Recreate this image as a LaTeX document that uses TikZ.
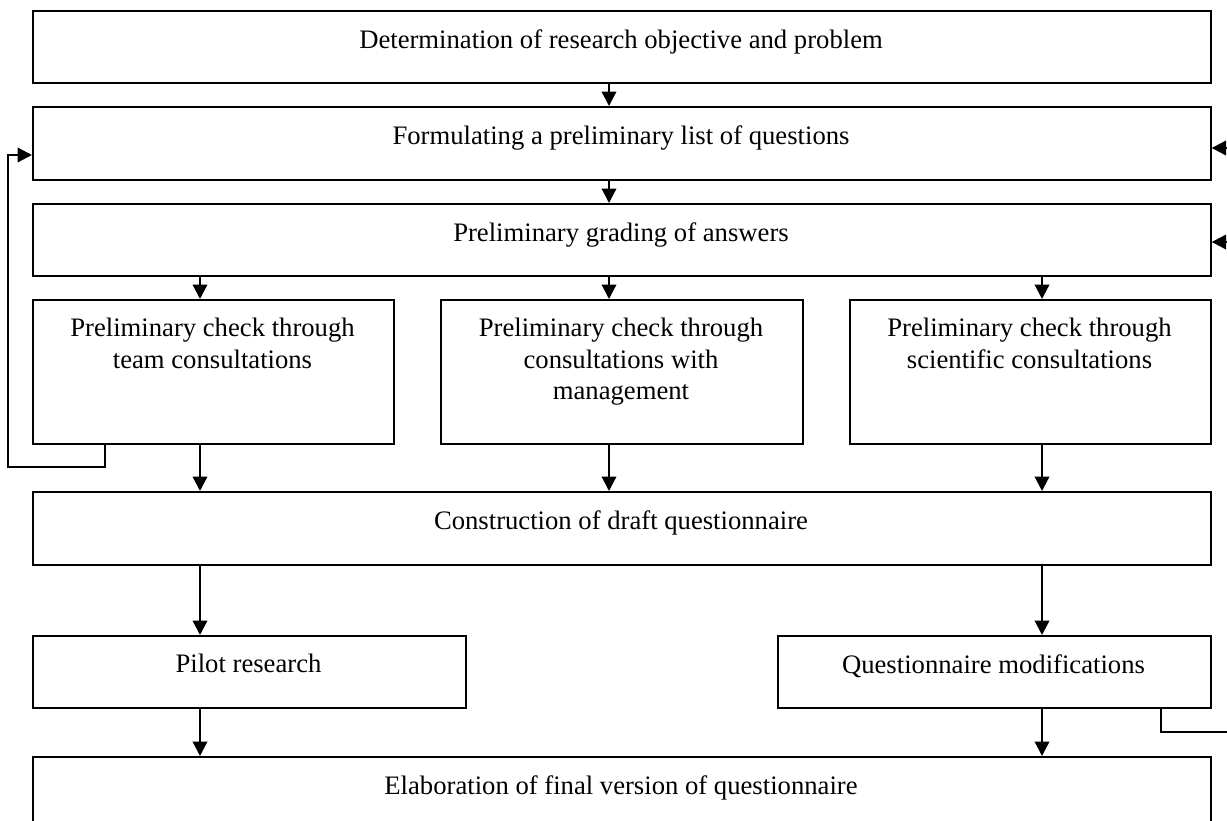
\documentclass[tikz,border=0pt]{standalone}
\usepackage{fontspec}
\setmainfont{Liberation Serif}
\usetikzlibrary{arrows.meta}
\tikzset{
  box/.style={draw, line width=0.75pt, inner sep=0pt, fill=none},
  txt/.style={inner sep=0pt, align=center, font=\fontsize{12}{14}\selectfont},
  arr/.style={line width=1pt, -{Triangle[length=6.5pt,width=6.5pt]}},
  ln/.style={line width=1pt}
}
\newcommand\mkbox[6]{%
  \node[box, anchor=north west, minimum width={(#4-#2)*0.45pt}, minimum height={(#5-#3)*0.45pt}] (#1) at (#2,#3) {};
  \node[txt, anchor=north] (#1t) at ({(#2+#4)/2},{#3+19}) {#6};}
\begin{document}
\begin{tikzpicture}[x=0.45pt,y=-0.45pt]
\useasboundingbox (0,0) rectangle (1227,820);
\mkbox{b1}{32}{10}{1210}{82}{Determination of research objective and problem}
\mkbox{b2}{32}{106}{1210}{179}{Formulating a preliminary list of questions}
\mkbox{b3}{32}{203}{1210}{275}{Preliminary grading of answers}
\mkbox{b4}{32}{299}{393}{443}{Preliminary check through\\team consultations}
\mkbox{b5}{440}{299}{802}{443}{Preliminary check through\\consultations with\\management}
\mkbox{b6}{849}{299}{1210}{443}{Preliminary check through\\scientific consultations}
\mkbox{b7}{32}{491}{1210}{564}{Construction of draft questionnaire}
\mkbox{b8}{32}{635}{465}{707}{Pilot research}
\mkbox{b9}{777}{635}{1210}{707}{Questionnaire modifications}
\mkbox{b10}{32}{756}{1210}{840}{Elaboration of final version of questionnaire}

\coordinate (cA) at (200,0);
\coordinate (cB) at (609,0);
\coordinate (cC) at (1042,0);

\draw[arr] (b1.south -| cB) -- (b2.north -| cB);
\draw[arr] (b2.south -| cB) -- (b3.north -| cB);
\draw[arr] (b3.south -| cA) -- (b4.north -| cA);
\draw[arr] (b3.south -| cB) -- (b5.north -| cB);
\draw[arr] (b3.south -| cC) -- (b6.north -| cC);
\draw[arr] (b4.south -| cA) -- (b7.north -| cA);
\draw[arr] (b5.south -| cB) -- (b7.north -| cB);
\draw[arr] (b6.south -| cC) -- (b7.north -| cC);
\draw[arr] (b7.south -| cA) -- (b8.north -| cA);
\draw[arr] (b7.south -| cC) -- (b9.north -| cC);
\draw[arr] (b8.south -| cA) -- (b10.north -| cA);
\draw[arr] (b9.south -| cC) -- (b10.north -| cC);

% feedback on the left
\coordinate (fb1) at (105,467);
\coordinate (fb2) at (8,155);
\draw[arr] (b4.south -| fb1) -- (fb1) -| (fb2) -- (b2.west |- fb2);

% arrows entering from the right edge
\coordinate (r1) at (1245,148);
\coordinate (r2) at (1245,242);
\draw[arr] (r1) -- (b2.east |- r1);
\draw[arr] (r2) -- (b3.east |- r2);

% line leaving questionnaire modifications
\coordinate (q1) at (1161,732);
\coordinate (q2) at (1245,732);
\draw[ln] (b9.south -| q1) -- (q1) -- (q2);
\end{tikzpicture}
\end{document}
